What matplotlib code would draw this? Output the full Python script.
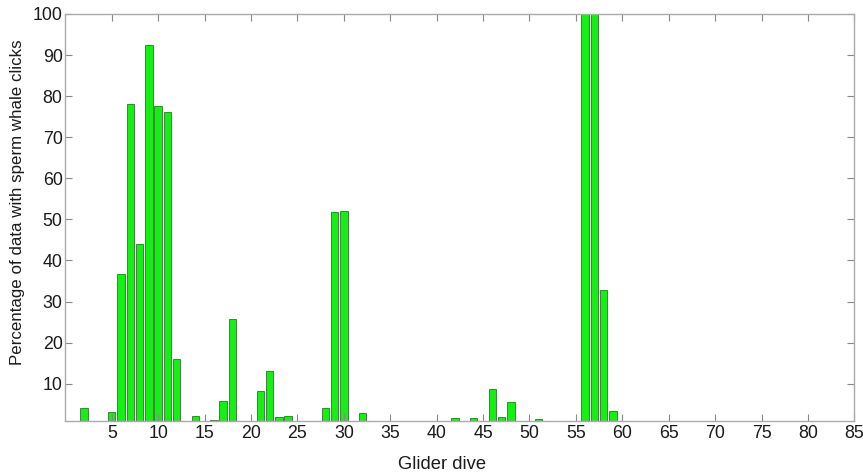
import numpy as np
import matplotlib
matplotlib.use("Agg")
import matplotlib.pyplot as plt
import matplotlib as mpl

# dive number and percentage of data with sperm whale clicks
dives = [2, 5, 6, 7, 8, 9, 10, 11, 12, 14, 16, 17, 18, 21, 22, 23, 24,
         28, 29, 30, 32, 42, 44, 46, 47, 48, 51, 56, 57, 58, 59]
percent = [4.1, 3.2, 36.6, 78.1, 43.9, 92.4, 77.7, 76.2, 15.9, 2.1, 1.2, 5.9, 25.8,
           8.3, 13.2, 1.8, 2.2, 4.2, 51.8, 52.0, 2.9, 1.6, 1.7, 8.6, 2.0, 5.6,
           1.3, 100, 100, 32.7, 3.3]
xticks = list(range(5, 90, 5))
yticks = list(range(10, 110, 10))

mpl.rcParams["font.family"] = ["Liberation Sans", "DejaVu Sans"]
mpl.rcParams["font.size"] = 12.8

fig = plt.figure(figsize=(8.63, 4.74), dpi=100)
ax = fig.add_axes([0.0757, 0.1125, 0.9143, 0.858])

ax.bar(dives, percent, width=0.8, color="#14f014", edgecolor="#3a6a3a", linewidth=0.6)

ax.set_xlim(0, 85)
ax.set_ylim(1, 100)
ax.set_xticks(xticks)
ax.set_yticks(yticks)
ax.tick_params(direction="in", top=True, right=True, length=5, width=0.8,
               color="#888888", labelcolor="#1a1a1a")
ax.tick_params(axis="x", pad=3)
ax.tick_params(axis="y", pad=2)
for s in ax.spines.values():
    s.set_color("#aaaaaa")
    s.set_linewidth(1.0)

ax.set_xlabel("Glider dive", color="#1a1a1a", fontsize=13.2)
ax.set_ylabel("Percentage of data with sperm whale clicks", color="#1a1a1a", fontsize=12.2)
ax.xaxis.set_label_coords(0.477, -0.088)
ax.yaxis.set_label_coords(-0.051, 0.538)

fig.savefig("out.png", dpi=100)
